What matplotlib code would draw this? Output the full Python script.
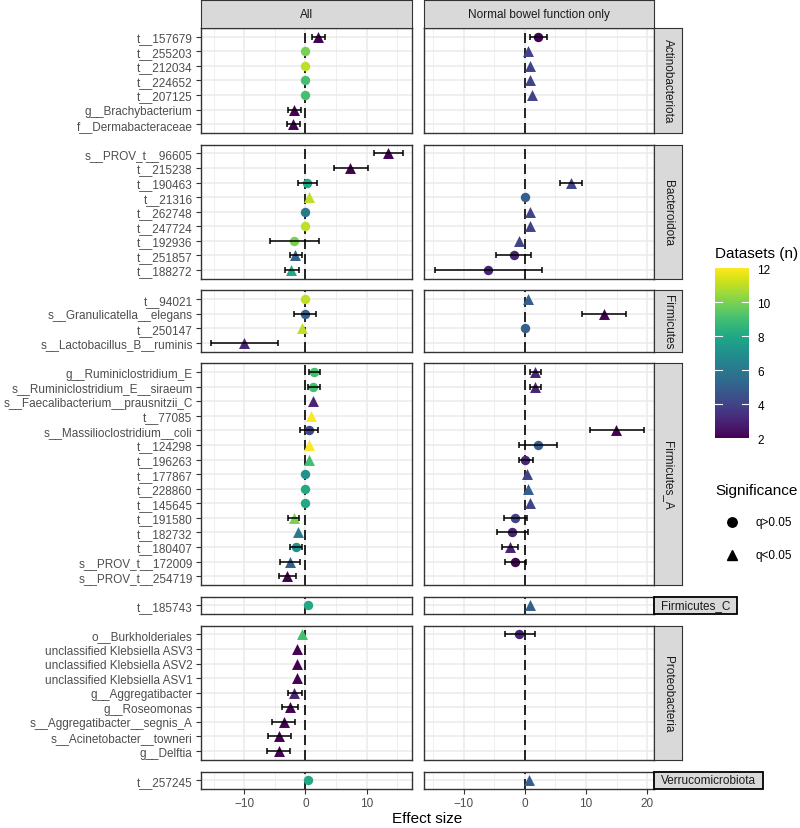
import matplotlib
matplotlib.use('Agg')
import matplotlib.pyplot as plt
import numpy as np
from matplotlib.lines import Line2D
from matplotlib.patches import Rectangle
from matplotlib.cm import ScalarMappable
from matplotlib.colors import Normalize
from matplotlib.ticker import MultipleLocator

plt.rcParams['font.family'] = ['Liberation Sans', 'DejaVu Sans']

nan = np.nan
T = 'q<0.05'
C = 'q>0.05'

phyla = ['Actinobacteriota', 'Bacteroidota', 'Firmicutes', 'Firmicutes_A',
         'Firmicutes_C', 'Proteobacteria', 'Verrucomicrobiota']

phylum = (['Actinobacteriota'] * 7 + ['Bacteroidota'] * 9 + ['Firmicutes'] * 4 +
          ['Firmicutes_A'] * 15 + ['Firmicutes_C'] + ['Proteobacteria'] * 9 +
          ['Verrucomicrobiota'])

taxon = ['t__157679', 't__255203', 't__212034', 't__224652', 't__207125',
         'g__Brachybacterium', 'f__Dermabacteraceae',
         's__PROV_t__96605', 't__215238', 't__190463', 't__21316', 't__262748',
         't__247724', 't__192936', 't__251857', 't__188272',
         't__94021', 's__Granulicatella__elegans', 't__250147', 's__Lactobacillus_B__ruminis',
         'g__Ruminiclostridium_E', 's__Ruminiclostridium_E__siraeum',
         's__Faecalibacterium__prausnitzii_C', 't__77085', 's__Massilioclostridium__coli',
         't__124298', 't__196263', 't__177867', 't__228860', 't__145645', 't__191580',
         't__182732', 't__180407', 's__PROV_t__172009', 's__PROV_t__254719',
         't__185743',
         'o__Burkholderiales', 'unclassified Klebsiella ASV3', 'unclassified Klebsiella ASV2',
         'unclassified Klebsiella ASV1', 'g__Aggregatibacter', 'g__Roseomonas',
         's__Aggregatibacter__segnis_A', 's__Acinetobacter__towneri', 'g__Delftia',
         't__257245']

# "All" datasets
all_est = [2.1, 0.0, 0.0, 0.0, 0.0, -1.9, -2.0,
           13.5, 7.3, 0.2, 0.5, 0.0, 0.0, -1.9, -1.7, -2.4,
           0.0, -0.1, -0.5, -10.0,
           1.4, 1.3, 1.2, 0.9, 0.55, 0.5, 0.6, 0.0, 0.0, 0.0, -1.9, -1.2, -1.55, -2.6, -2.95,
           0.4,
           -0.5, -1.35, -1.4, -1.45, -1.9, -2.6, -3.45, -4.3, -4.4,
           0.4]
all_lo = [1.1, nan, nan, nan, nan, -2.9, -3.05,
          11.2, 4.6, -1.3, nan, nan, nan, -5.85, -2.5, -3.4,
          nan, -1.8, nan, -15.5,
          0.5, 0.45, nan, nan, -0.85, nan, nan, nan, nan, nan, -2.8, nan, -2.5, -4.1, -4.25,
          nan,
          nan, nan, nan, nan, -2.8, -3.9, -5.4, -6.2, -6.3,
          nan]
all_hi = [3.2, nan, nan, nan, nan, -0.75, -0.85,
          15.9, 10.2, 1.9, nan, nan, nan, 2.2, -0.6, -1.1,
          nan, 1.8, nan, -4.5,
          2.4, 2.4, nan, nan, 2.0, nan, nan, nan, nan, nan, -1.1, nan, -0.5, -0.95, -1.5,
          nan,
          nan, nan, nan, nan, -0.6, -1.3, -1.65, -2.35, -2.6,
          nan]
all_n = [2, 10, 11, 9, 9, 2, 2,
         2, 2, 8, 11, 6, 11, 10, 5, 8,
         11, 5, 11, 3,
         9, 9, 3, 12, 4, 12, 9, 7, 8, 8, 10, 6, 7, 5, 2,
         8,
         9, 2, 2, 2, 3, 2, 2, 2, 2,
         8]
all_q = [T, C, C, C, C, T, T,
         T, T, C, T, C, C, C, T, T,
         C, C, T, T,
         C, C, T, T, C, T, T, C, C, C, T, T, C, T, T,
         C,
         T, T, T, T, T, T, T, T, T,
         C]

# "Normal bowel function only"
nb_est = [2.2, 0.6, 0.9, 0.9, 1.2, nan, nan,
          nan, nan, 7.5, 0.0, 0.9, 0.8, -1.0, -1.8, -6.0,
          0.6, 12.9, 0.0, nan,
          1.6, 1.7, nan, nan, 14.9, 2.2, 0.1, 0.3, 0.55, 0.8, -1.6, -2.1, -2.5, -1.6, nan,
          0.8,
          -0.9, nan, nan, nan, nan, nan, nan, nan, nan,
          0.65]
nb_lo = [0.8, nan, nan, nan, nan, nan, nan,
         nan, nan, 5.8, nan, nan, nan, nan, -4.7, -14.7,
         nan, 9.3, nan, nan,
         0.8, 0.8, nan, nan, 10.7, -1.0, -1.0, nan, nan, nan, -3.4, -4.55, -3.8, -3.25, nan,
         nan,
         -3.25, nan, nan, nan, nan, nan, nan, nan, nan,
         nan]
nb_hi = [3.6, nan, nan, nan, nan, nan, nan,
         nan, nan, 9.3, nan, nan, nan, nan, 1.0, 2.8,
         nan, 16.5, nan, nan,
         2.7, 2.7, nan, nan, 19.4, 5.3, 1.4, nan, nan, nan, 0.3, 0.5, -1.1, 0.2, nan,
         nan,
         1.6, nan, nan, nan, nan, nan, nan, nan, nan,
         nan]
nb_n = [2, 4, 4, 4, 4, nan, nan,
        nan, nan, 4, 5, 4, 4, 4, 3, 3,
        5, 2, 5, nan,
        3, 3, nan, nan, 2, 5, 3, 4, 5, 4, 4, 3, 3, 2, nan,
        5,
        3, nan, nan, nan, nan, nan, nan, nan, nan,
        5]
nb_q = [C, T, T, T, T, None, None,
        None, None, T, C, T, T, T, C, C,
        T, T, C, None,
        T, T, None, None, T, C, C, T, T, T, C, C, T, C, None,
        T,
        C, None, None, None, None, None, None, None, None,
        T]

columns = ['All', 'Normal bowel function only']
series = [(all_est, all_lo, all_hi, all_n, all_q),
          (nb_est, nb_lo, nb_hi, nb_n, nb_q)]

cmap = plt.get_cmap('viridis')
norm = Normalize(vmin=2, vmax=12)
grey20 = '#333333'


def xrange_of(est, lo, hi):
    v = np.array(est + lo + hi, dtype=float)
    mn, mx = np.nanmin(v), np.nanmax(v)
    pad = 0.05 * (mx - mn)
    return mn - pad, mx + pad


xlims = [xrange_of(s[0], s[1], s[2]) for s in series]
counts = [phylum.count(p) for p in phyla]

W, H = 800, 829
fig = plt.figure(figsize=(W / 100, H / 100), dpi=100)

left, right, top, bottom = 201, 654, 29, 790
vgap, hgap = 11.7, 12
avg_h = (bottom - top - vgap * (len(phyla) - 1)) / len(phyla)
avg_w = (right - left - hgap) / 2
gs = fig.add_gridspec(len(phyla), 2, left=left / W, right=right / W,
                      top=1 - top / H, bottom=1 - bottom / H,
                      height_ratios=[n + 0.2 for n in counts],
                      width_ratios=[b - a for a, b in xlims],
                      hspace=vgap / avg_h, wspace=hgap / avg_w)

renderer = fig.canvas.get_renderer()

for r, ph in enumerate(phyla):
    idx = [i for i, p in enumerate(phylum) if p == ph]
    n = len(idx)
    for c, (est, lo, hi, nn, q) in enumerate(series):
        ax = fig.add_subplot(gs[r, c])
        ax.set_xlim(*xlims[c])
        ax.set_ylim(-0.6, n - 1 + 0.6)
        ax.xaxis.set_major_locator(MultipleLocator(10))
        ax.xaxis.set_minor_locator(MultipleLocator(5))
        ax.set_yticks(range(n))
        ax.grid(which='major', color='#EBEBEB', lw=1.1)
        ax.grid(which='minor', axis='x', color='#EBEBEB', lw=0.55)
        ax.set_axisbelow(True)
        for sp in ax.spines.values():
            sp.set_color(grey20)
            sp.set_linewidth(1.0)
        ax.axvline(0, color='black', lw=1.2, ls=(0, (6, 3)), zorder=2)

        for k, i in enumerate(idx):
            y = n - 1 - k
            if np.isnan(est[i]):
                continue
            mk = '^' if q[i] == T else 'o'
            ax.scatter([est[i]], [y], c=[nn[i]], cmap=cmap, norm=norm, marker=mk,
                       s=62 if mk == '^' else 46, linewidths=0, zorder=3)
            if not np.isnan(lo[i]):
                ax.errorbar([est[i]], [y], xerr=[[est[i] - lo[i]], [hi[i] - est[i]]],
                            fmt='none', ecolor='black', elinewidth=1.1,
                            capsize=2.5, capthick=1.1, zorder=4)

        if c == 0:
            ax.set_yticklabels([taxon[i] for i in idx][::-1], fontsize=8.5, color='#4D4D4D')
            ax.tick_params(axis='y', length=3.6, width=0.8, color=grey20, pad=2.5)
        else:
            ax.tick_params(axis='y', length=0, labelleft=False)
        if r == len(phyla) - 1:
            ax.tick_params(axis='x', length=3.6, width=0.8, color=grey20,
                           labelsize=8.5, labelcolor='#4D4D4D', pad=2)
        else:
            ax.tick_params(axis='x', length=0, labelbottom=False)
        ax.tick_params(which='minor', length=0)

        pos = ax.get_position()
        if r == 0:
            sax = fig.add_axes([pos.x0, pos.y1, pos.width, 28 / H])
            sax.set_facecolor('#D9D9D9')
            sax.set_xticks([])
            sax.set_yticks([])
            for sp in sax.spines.values():
                sp.set_color(grey20)
            sax.text(0.5, 0.5, columns[c], ha='center', va='center',
                     fontsize=8.5, color='#1A1A1A', transform=sax.transAxes)
        if c == 1:
            if n > 1:
                sax = fig.add_axes([pos.x1, pos.y0, 28 / W, pos.height])
                sax.set_facecolor('#D9D9D9')
                sax.set_xticks([])
                sax.set_yticks([])
                for sp in sax.spines.values():
                    sp.set_color(grey20)
                sax.text(0.5, 0.5, ph, ha='center', va='center', rotation=270,
                         fontsize=8.5, color='#1A1A1A', transform=sax.transAxes)
            else:
                t = fig.text(0, 0, ph, fontsize=8.5, color='#1A1A1A')
                tw = t.get_window_extent(renderer).width / W
                bw = tw + 14 / W
                fig.add_artist(Rectangle((pos.x1, pos.y0), bw, pos.height,
                                         transform=fig.transFigure, facecolor='#D9D9D9',
                                         edgecolor='black', lw=1.3))
                t.set_position((pos.x1 + bw / 2, pos.y0 + pos.height / 2))
                t.set_ha('center')
                t.set_va('center')
                t.set_zorder(5)

fig.text(427.5 / W, 1 - 819 / H, 'Effect size', ha='center', va='center', fontsize=11)

# colour legend
fig.text(715 / W, 1 - 254 / H, 'Datasets (n)', ha='left', va='center', fontsize=11)
cax = fig.add_axes([715 / W, 1 - 439 / H, 34 / W, 170 / H])
cb = fig.colorbar(ScalarMappable(norm=norm, cmap=cmap), cax=cax, ticks=[2, 4, 6, 8, 10, 12])
cb.outline.set_visible(False)
cax.tick_params(length=0, labelsize=8.5, pad=6)
for v in [4, 6, 8, 10]:
    cax.plot([0, 0.2], [v, v], color='white', lw=0.8, transform=cax.get_yaxis_transform())
    cax.plot([0.8, 1], [v, v], color='white', lw=0.8, transform=cax.get_yaxis_transform())

# shape legend
fig.text(715 / W, 1 - 490.7 / H, 'Significance', ha='left', va='center', fontsize=11)
for yy, mk, lab in [(522.7, 'o', 'q>0.05'), (556, '^', 'q<0.05')]:
    fig.add_artist(Line2D([731.7 / W], [1 - yy / H], marker=mk, color='black',
                          markersize=6.8 if mk == 'o' else 7.8, linestyle='none',
                          transform=fig.transFigure))
    fig.text(756 / W, 1 - yy / H, lab, ha='left', va='center', fontsize=8.5)

fig.savefig('out.png', dpi=100)
